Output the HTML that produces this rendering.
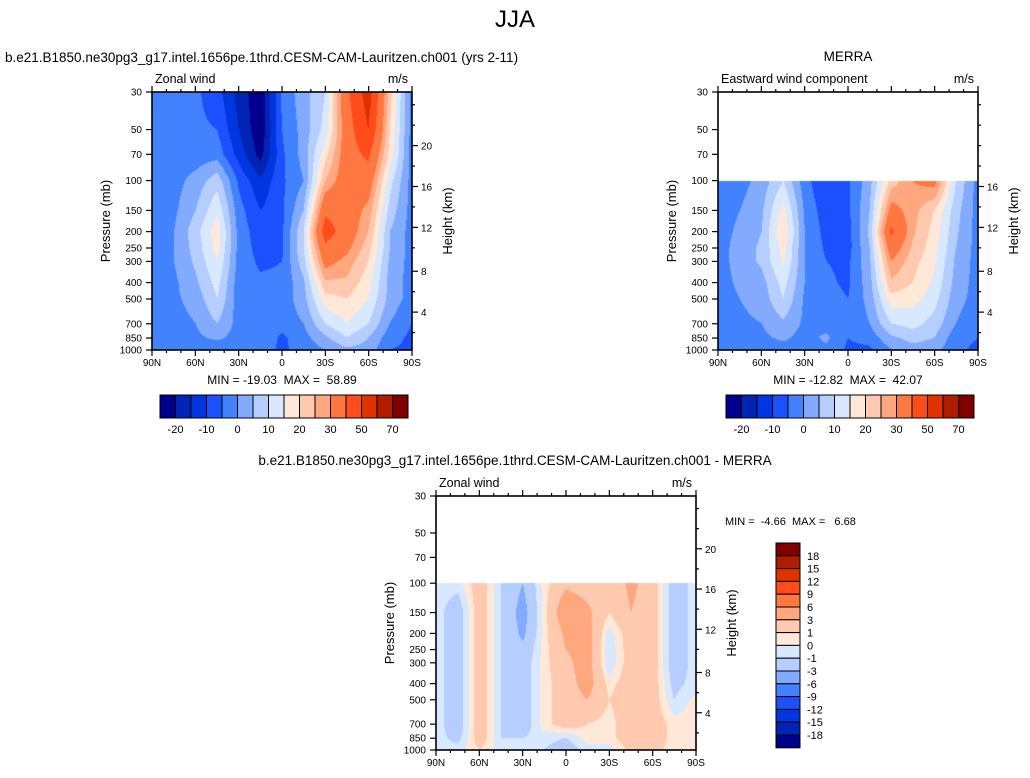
<!DOCTYPE html>
<html><head><meta charset="utf-8"><style>
body{margin:0;background:#fff;width:1030px;height:778px;overflow:hidden;position:relative;font-family:"Liberation Sans",Arial,sans-serif}
canvas{position:absolute}
svg{position:absolute;left:0;top:0}
text{white-space:pre}
</style></head><body>
<canvas id="c1" style="left:152px;top:92px" width="260" height="258"></canvas>
<canvas id="c2" style="left:718px;top:92px" width="260" height="258"></canvas>
<canvas id="c3" style="left:436px;top:496px" width="260" height="254"></canvas>
<svg id="s" width="1030" height="778"></svg>
<script>
const lats=[90,75,60,45,30,15,0,-15,-30,-45,-60,-75,-90];
const levels1=[30,50,70,100,150,200,250,300,400,500,700,850,1000];
const levels2=[100,150,200,250,300,400,500,700,850,1000];
const field1=[
[-3,-3,-4,-8,-17,-24,-4,3,10,38,55,22,-2],
[-3,-3,-4,-5,-15,-24,-5,2,12,35,50,20,-2],
[-2,-3,-3,-2,-12,-22,-6,2,18,35,42,18,-2],
[-3,-2,2,8,-6,-14,-6,0,25,35,35,12,-2],
[-3,-1,5,14,-3,-10,-6,5,38,35,28,8,-2],
[-3,0,8,18,-2,-8,-6,10,45,35,25,5,-2],
[-3,0,7,17,-2,-7,-6,10,38,32,22,5,-2],
[-3,0,6,15,-2,-6,-5,8,33,28,20,4,-2],
[-3,-1,4,12,-3,-4,-4,4,24,24,17,3,-2],
[-3,-1,2,10,-3,-3,-3,3,18,20,15,3,-2],
[-3,-2,0,5,-2,-3,-3,0,10,15,10,0,-5],
[-3,-3,-1,1,-2,-1,-6,-2,4,10,5,-3,-6],
[-4,-3,-3,-3,-3,-3,-6,-3,0,4,3,-5,-6]];
const field2=[
[-2,-2,2,10,-3,-10,-6,3,22,30,33,10,-2],
[-2,0,4,17,-1,-8,-6,5,33,27,20,7,-2],
[-2,1,5,20,0,-7,-7,6,42,26,18,6,-2],
[-2,2,6,17,0,-6,-7,5,35,24,17,5,-2],
[-2,2,6,16,0,-5,-6,4,30,22,16,4,-2],
[-2,1,3,12,0,-4,-6,3,24,20,14,3,-2],
[-2,0,2,10,-1,-3,-5,2,18,17,12,2,-2],
[-2,-1,0,4,-1,-2,-5,0,10,12,8,0,-4],
[-2,-2,-1,1,-2,1,-5,-3,4,7,5,-3,-5],
[-3,-3,-3,-2,-2,-1,-6,-6,0,3,2,-4,-6]];
const field3=[
[-0.5,-0.5,2,-1,-3,0.5,2.5,2,1.5,3.5,2,-2,-0.5],
[-0.5,-2,2,-1,-4,0.5,5,3.5,1,3,2,-2,-0.5],
[-0.5,-2,2,-1,-3.5,0.5,3.5,4,-0.5,2,2,-2,-0.5],
[-0.5,-2,2,-1,-2.5,0.5,3,4,-1,2,2,-2,-0.5],
[-0.5,-2,2,-1,-2,0.5,2.5,4,-1,2,2,-2,-0.5],
[-0.5,-2,2,-1,-2,0.5,2,4,0.5,2,2,-1.5,-0.5],
[-0.5,-2,2,-1,-2,0.5,2,3,1,2,2,-1,0.3],
[-0.5,-2,2,-1,-2,0.5,2,1,0.5,2,2,0.5,0.5],
[-0.5,-1.5,2,-1,-1,-0.5,-1,0.5,0.5,2,2,0.5,0],
[-0.5,-0.5,1,-0.5,-0.5,-1,-2,-0.5,-0.5,1.5,1.5,0.5,0]];
const bounds1=[-20,-15,-10,-5,0,5,10,15,20,25,30,40,50,60,70];
const bounds3=[-18,-15,-12,-9,-6,-3,-1,0,1,3,6,9,12,15,18];
const cbLabels1=["-20","-10","0","10","20","30","50","70"];
const cbLabels3=["-18","-15","-12","-9","-6","-3","-1","0","1","3","6","9","12","15","18"];
const pTicks=[30,50,70,100,150,200,250,300,400,500,700,850,1000];
const xLabels=["90N","60N","30N","0","30S","60S","90S"];
const colors=["#00008c","#0024b4","#0036e0","#1c50ff","#4282ff","#82aaff","#b6ceff","#d8e8ff","#ffe8d8","#ffc9b0","#ffa880","#ff7842","#ff4c1a","#e03200","#b01c00","#800000"];

function hex(c){return [parseInt(c.substr(1,2),16),parseInt(c.substr(3,2),16),parseInt(c.substr(5,2),16)];}
const rgb=colors.map(hex);
function cls(v,b){let i=0;while(i<b.length&&v>=b[i])i++;return i;}
function yOfP(p,top,h){return top+h*Math.log(p/30)/Math.log(1000/30);}

function fill(id,field,levs,bounds){
  const cv=document.getElementById(id),ctx=cv.getContext('2d');
  const W=cv.width,H=cv.height,img=ctx.createImageData(W,H);
  const lp=levs.map(p=>Math.log(p));
  for(let y=0;y<H;y++){
    const p=30*Math.exp(y/(H-1)*Math.log(1000/30)),l=Math.log(p);
    for(let x=0;x<W;x++){
      const o=(y*W+x)*4;
      if(p<levs[0]-0.01){img.data[o]=255;img.data[o+1]=255;img.data[o+2]=255;img.data[o+3]=255;continue;}
      let j=0;while(j<lp.length-2&&l>lp[j+1])j++;
      let ty=(l-lp[j])/(lp[j+1]-lp[j]);ty=Math.max(0,Math.min(1,ty));
      const fx=x/(W-1)*(lats.length-1);let i=Math.min(lats.length-2,Math.floor(fx));const tx=fx-i;
      const v=(field[j][i]*(1-tx)+field[j][i+1]*tx)*(1-ty)+(field[j+1][i]*(1-tx)+field[j+1][i+1]*tx)*ty;
      const c=rgb[cls(v,bounds)];
      img.data[o]=c[0];img.data[o+1]=c[1];img.data[o+2]=c[2];img.data[o+3]=255;
    }
  }
  ctx.putImageData(img,0,0);
}
fill('c1',field1,levels1,bounds1);
fill('c2',field2,levels2,bounds1);
fill('c3',field3,levels2,bounds3);

const S=document.getElementById('s');const NS='http://www.w3.org/2000/svg';
function el(t,a,txt){const e=document.createElementNS(NS,t);for(const k in a)e.setAttribute(k,a[k]);if(txt!==undefined)e.textContent=txt;S.appendChild(e);return e;}
function text(x,y,s,size,anchor,name,extra){const e=el('text',Object.assign({x:x,y:y,'font-size':size,'text-anchor':anchor||'start',fill:'#000','font-family':'Liberation Sans, Arial, sans-serif'},extra||{}),s);

return e;}

function axes(L,T,W,H,kmTicks,lt,rt,pfx){
  const r=el('rect',{x:L,y:T,width:W,height:H,fill:'none',stroke:'#000','stroke-width':1.6});
  
  
  const xs=v=>L+W*(90-v)/180;
  for(let v=90;v>=-90;v-=10){
    const major=v%30===0,len=major?6:3,x=xs(v);
    el('line',{x1:x,y1:T,x2:x,y2:T-len,stroke:'#000','stroke-width':1.2});
    el('line',{x1:x,y1:T+H,x2:x,y2:T+H+len,stroke:'#000','stroke-width':1.2});
  }
  xLabels.forEach((s,k)=>text(xs(90-30*k),T+H+16,s,10,'middle',pfx+'-x-tick-label'));
  pTicks.forEach(p=>{const y=yOfP(p,T,H);el('line',{x1:L,y1:y,x2:L-6,y2:y,stroke:'#000','stroke-width':1.2});
    text(L-10,y+3.5,String(p),10,'end',pfx+'-y-tick-label');});
  for(let z=2;z<=24;z+=2){const p=1000*Math.exp(-z/7.2);if(p<30)break;const y=yOfP(p,T,H)+(z<=8?3:0);
    const major=z%4===0&&kmTicks.indexOf(z)>=0;
    el('line',{x1:L+W,y1:y,x2:L+W+(major?6:3),y2:y,stroke:'#000','stroke-width':1.2});
    if(major)text(L+W+9,y+4,String(z),10,'start',pfx+'-height-tick-label');}
  text(L-42,T+H/2,'Pressure (mb)',13,'middle',pfx+'-y-axis-title',{transform:'rotate(-90 '+(L-42)+' '+(T+H/2)+')'});
  text(L+W+40,T+H/2,'Height (km)',13,'middle',pfx+'-height-axis-title',{transform:'rotate(-90 '+(L+W+40)+' '+(T+H/2)+')'});
  text(L+3,T-9,lt,12.5,'start',pfx+'-left-subtitle');
  text(L+W-4,T-9,rt,12.5,'end',pfx+'-units-label');
}
axes(152,92,260,258,[4,8,12,16,20],'Zonal wind','m/s','model');
axes(718,92,260,258,[4,8,12,16],'Eastward wind component','m/s','merra');
axes(436,496,260,254,[4,8,12,16,20],'Zonal wind','m/s','diff');

function hbar(L,T,pfx){
  const bw=15.5;
  for(let i=0;i<16;i++){const r=el('rect',{x:L+i*bw,y:T,width:bw,height:23,fill:colors[i],stroke:'#000','stroke-width':1});
    
    }
  cbLabels1.forEach((s,k)=>text(L+bw*(1+2*k),T+38,s,11,'middle',pfx+'-colorbar-label'));
}
hbar(160,395,'model');hbar(726,395,'merra');
(function(){const L=776,T=543,bh=12.8;
  for(let i=0;i<16;i++){const r=el('rect',{x:L,y:T+i*bh,width:24,height:bh,fill:colors[15-i],stroke:'#000','stroke-width':1});
    
    }
  for(let k=0;k<15;k++)text(L+31,T+bh*(k+1)+4,cbLabels3[14-k],11,'start','diff-colorbar-label');
})();

text(515,27,'JJA',24,'middle','figure-title');
text(5,62,'b.e21.B1850.ne30pg3_g17.intel.1656pe.1thrd.CESM-CAM-Lauritzen.ch001 (yrs 2-11)',13.5,'start','model-panel-title');
text(848,61,'MERRA',13.5,'middle','merra-panel-title');
text(515,465,'b.e21.B1850.ne30pg3_g17.intel.1656pe.1thrd.CESM-CAM-Lauritzen.ch001 - MERRA',13.5,'middle','diff-panel-title');
text(282,384,'MIN = -19.03  MAX =  58.89',12,'middle','model-min-max');
text(848,384,'MIN = -12.82  MAX =  42.07',12,'middle','merra-min-max');
text(725,525,'MIN =  -4.66  MAX =   6.68',11,'start','diff-min-max');
</script>
</body></html>
